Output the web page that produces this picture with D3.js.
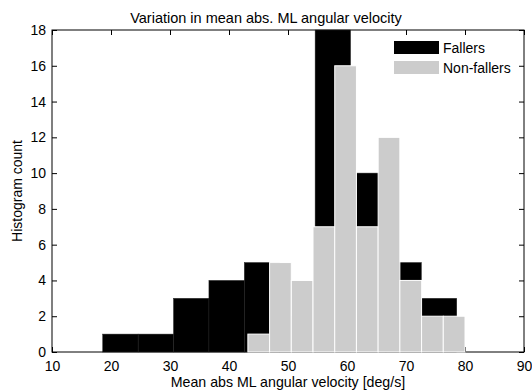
<!DOCTYPE html>
<html>
<head>
<meta charset="utf-8">
<script src="https://cdn.jsdelivr.net/npm/d3@7"></script>
<style>
  body { margin: 0; background: #fff; }
  svg text { font-family: "Liberation Sans", Arial, sans-serif; font-size: 14px; fill: #000; }
</style>
</head>
<body>
<svg id="chart" width="532" height="392"></svg>
<script>
// histogram bin centres (deg/s) and counts
const fallerCenters = [21.6, 27.6, 33.6, 39.6, 45.6, 51.6, 57.6, 63.6, 69.6, 75.6];
const fallerCounts = [1, 1, 3, 4, 5, 2, 18, 10, 5, 3];
const nonFallerCenters = [45.04, 48.72, 52.4, 56.08, 59.76, 63.44, 67.12, 70.8, 74.48, 78.16];
const nonFallerCounts = [1, 5, 4, 7, 16, 7, 12, 4, 2, 2];

const xTicks = [10, 20, 30, 40, 50, 60, 70, 80, 90];
const yTicks = [0, 2, 4, 6, 8, 10, 12, 14, 16, 18];
const legendLabels = ["Fallers", "Non-fallers"];

const svg = d3.select("#chart");
const mLeft = 52, mRight = 524, mTop = 30, mBottom = 352;
const tickLen = 5;

const x = d3.scaleLinear().domain([10, 90]).range([mLeft, mRight]);
const y = d3.scaleLinear().domain([0, 18]).range([mBottom, mTop]);

// axes (ticks pointing in, on all four sides)
svg.append("g")
    .attr("transform", "translate(0," + mBottom + ")")
    .call(d3.axisBottom(x).tickValues(xTicks).tickSize(-tickLen).tickPadding(tickLen + 4).tickSizeOuter(0))
    .call(g => g.select(".domain").remove());
svg.append("g")
    .attr("transform", "translate(0," + mTop + ")")
    .call(d3.axisTop(x).tickValues(xTicks).tickSize(-tickLen).tickFormat("").tickSizeOuter(0))
    .call(g => g.select(".domain").remove());
svg.append("g")
    .attr("transform", "translate(" + mLeft + ",0)")
    .call(d3.axisLeft(y).tickValues(yTicks).tickSize(-tickLen).tickPadding(tickLen + 1).tickSizeOuter(0))
    .call(g => g.select(".domain").remove());
svg.append("g")
    .attr("transform", "translate(" + mRight + ",0)")
    .call(d3.axisRight(y).tickValues(yTicks).tickSize(-tickLen).tickFormat("").tickSizeOuter(0))
    .call(g => g.select(".domain").remove());
svg.selectAll(".tick text").style("font-size", "14px").style("font-family", "Liberation Sans, Arial, sans-serif");

svg.append("rect")
    .attr("x", mLeft).attr("y", mTop)
    .attr("width", mRight - mLeft).attr("height", mBottom - mTop)
    .attr("fill", "none").attr("stroke", "#000").attr("stroke-width", 1);

// bars
let binWidth = function (centers) {
    return centers[1] - centers[0];
};

let fw = binWidth(fallerCenters);
svg.append("g").selectAll("rect")
    .data(fallerCounts)
    .enter()
    .append("rect")
    .attr("x", (d, i) => x(fallerCenters[i] - fw / 2))
    .attr("y", d => y(d))
    .attr("width", x(fw) - x(0))
    .attr("height", d => y(0) - y(d))
    .attr("fill", "#000")
    .attr("stroke", "#222")
    .attr("stroke-width", 0.5);

let nw = binWidth(nonFallerCenters);
svg.append("g").selectAll("rect")
    .data(nonFallerCounts)
    .enter()
    .append("rect")
    .attr("x", (d, i) => x(nonFallerCenters[i] - nw / 2))
    .attr("y", d => y(d))
    .attr("width", x(nw) - x(0))
    .attr("height", d => y(0) - y(d))
    .attr("fill", "#cccccc")
    .attr("stroke", "#fff")
    .attr("stroke-width", 1);

// legend
const legendColors = ["#000", "#cccccc"];
const lg = svg.append("g").attr("transform", "translate(394,41)");
legendLabels.forEach((lab, i) => {
    lg.append("rect")
        .attr("x", 0).attr("y", i * 20)
        .attr("width", 45).attr("height", 13)
        .attr("fill", legendColors[i]);
    lg.append("text")
        .attr("x", 49).attr("y", i * 20 + 12)
        .text(lab);
});

// labels
svg.append("text")
    .attr("x", 266).attr("y", 23)
    .attr("text-anchor", "middle")
    .style("font-size", "14.5px")
    .text("Variation in mean abs. ML angular velocity");

svg.append("text")
    .attr("x", (mLeft + mRight) / 2).attr("y", 387)
    .attr("text-anchor", "middle")
    .style("font-size", "14.2px")
    .text("Mean abs ML angular velocity [deg/s]");

svg.append("text")
    .attr("transform", "translate(22," + (mTop + mBottom) / 2 + ") rotate(-90)")
    .attr("text-anchor", "middle")
    .style("font-size", "14px")
    .text("Histogram count");
</script>
</body>
</html>
